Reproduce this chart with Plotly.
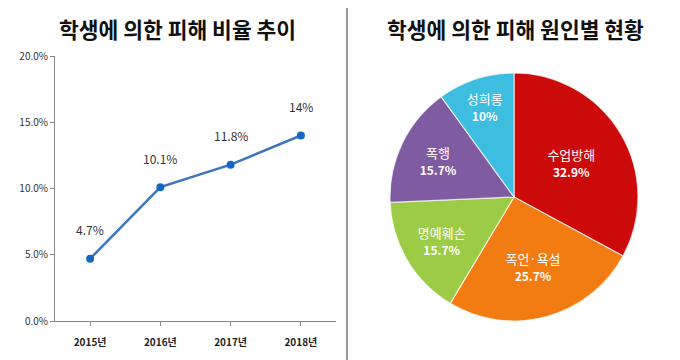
import plotly.graph_objects as go

years = ["2015년", "2016년", "2017년", "2018년"]
rates = [4.7, 10.1, 11.8, 14.0]
rate_labels = ["4.7%", "10.1%", "11.8%", "14%"]

causes = ["수업방해", "폭언·욕설", "명예훼손", "폭행", "성희롱"]
shares = [32.9, 25.7, 15.7, 15.7, 10.0]
share_labels = ["32.9%", "25.7%", "15.7%", "15.7%", "10%"]
pie_colors = ["#CC0A0A", "#F27C12", "#9CCB45", "#7F5BA2", "#3DBDE0"]

y_ticks = [0, 5, 10, 15, 20]
y_tick_text = ["0.0%", "5.0%", "10.0%", "15.0%", "20.0%"]

FONT = "Noto Sans CJK KR"
W, H, OFF = 680, 360, 8


def px(x):
    return (x - OFF) / W


def py(y):
    return 1 - (y - OFF) / H


fig = go.Figure()

fig.add_trace(go.Scatter(
    x=years, y=rates, mode="lines+markers",
    line=dict(color="#3F74BE", width=2.5),
    marker=dict(color="#1468C4", size=8),
    hoverinfo="skip", showlegend=False,
))

for x, y, t in zip(years, rates, rate_labels):
    fig.add_annotation(x=x, y=y, text=t, showarrow=False, yshift=29,
                       xref="x", yref="y", xanchor="center", yanchor="middle",
                       font=dict(family=FONT, size=12, color="#333333"))

fig.add_trace(go.Pie(
    labels=causes, values=shares, text=share_labels,
    texttemplate="%{label}<br><span style='font-size:12px'><b>%{text}</b></span>",
    textposition="inside", insidetextorientation="horizontal",
    sort=False, direction="clockwise", rotation=0,
    marker=dict(colors=pie_colors, line=dict(color="rgba(255,255,255,0.7)", width=1.2)),
    textfont=dict(family=FONT, size=13, color="white"),
    domain=dict(x=[px(390), px(638)], y=[py(321), py(73)]),
    showlegend=False, hoverinfo="skip", automargin=False,
))

fig.update_layout(
    width=W, height=H,
    margin=dict(l=0, r=0, t=0, b=0, pad=0, autoexpand=False),
    paper_bgcolor="white", plot_bgcolor="white",
    font=dict(family=FONT, color="#222222"),
    xaxis=dict(domain=[px(55), px(336)], range=[-0.5, 3.5], type="category",
               showline=True, linecolor="#888888", linewidth=1,
               ticks="outside", ticklen=4, tickcolor="#888888",
               ticklabelstandoff=8,
               showgrid=False, zeroline=False, automargin=False,
               tickfont=dict(family=FONT, size=10, color="#222222")),
    yaxis=dict(domain=[py(321), py(56)], range=[0, 20],
               tickvals=y_ticks, ticktext=y_tick_text,
               showline=True, linecolor="#888888", linewidth=1,
               ticks="outside", ticklen=4, tickcolor="#888888",
               showgrid=False, zeroline=False, automargin=False,
               tickfont=dict(family=FONT, size=10, color="#333333")),
    shapes=[dict(type="line", xref="paper", yref="paper",
                 x0=px(347), x1=px(347), y0=0, y1=1,
                 line=dict(color="#999999", width=2))],
)

fig.update_xaxes(ticktext=[f"<b>{y}</b>" for y in years], tickvals=years)

fig.add_annotation(text="<b>학생에 의한 피해 비율 추이</b>", xref="paper", yref="paper",
                   x=px(177), y=py(28), showarrow=False,
                   xanchor="center", yanchor="middle",
                   font=dict(family=FONT, size=21.5, color="#111111"))
fig.add_annotation(text="<b>학생에 의한 피해 원인별 현황</b>", xref="paper", yref="paper",
                   x=px(515), y=py(28), showarrow=False,
                   xanchor="center", yanchor="middle",
                   font=dict(family=FONT, size=21.5, color="#111111"))

fig.write_html("out.html")
